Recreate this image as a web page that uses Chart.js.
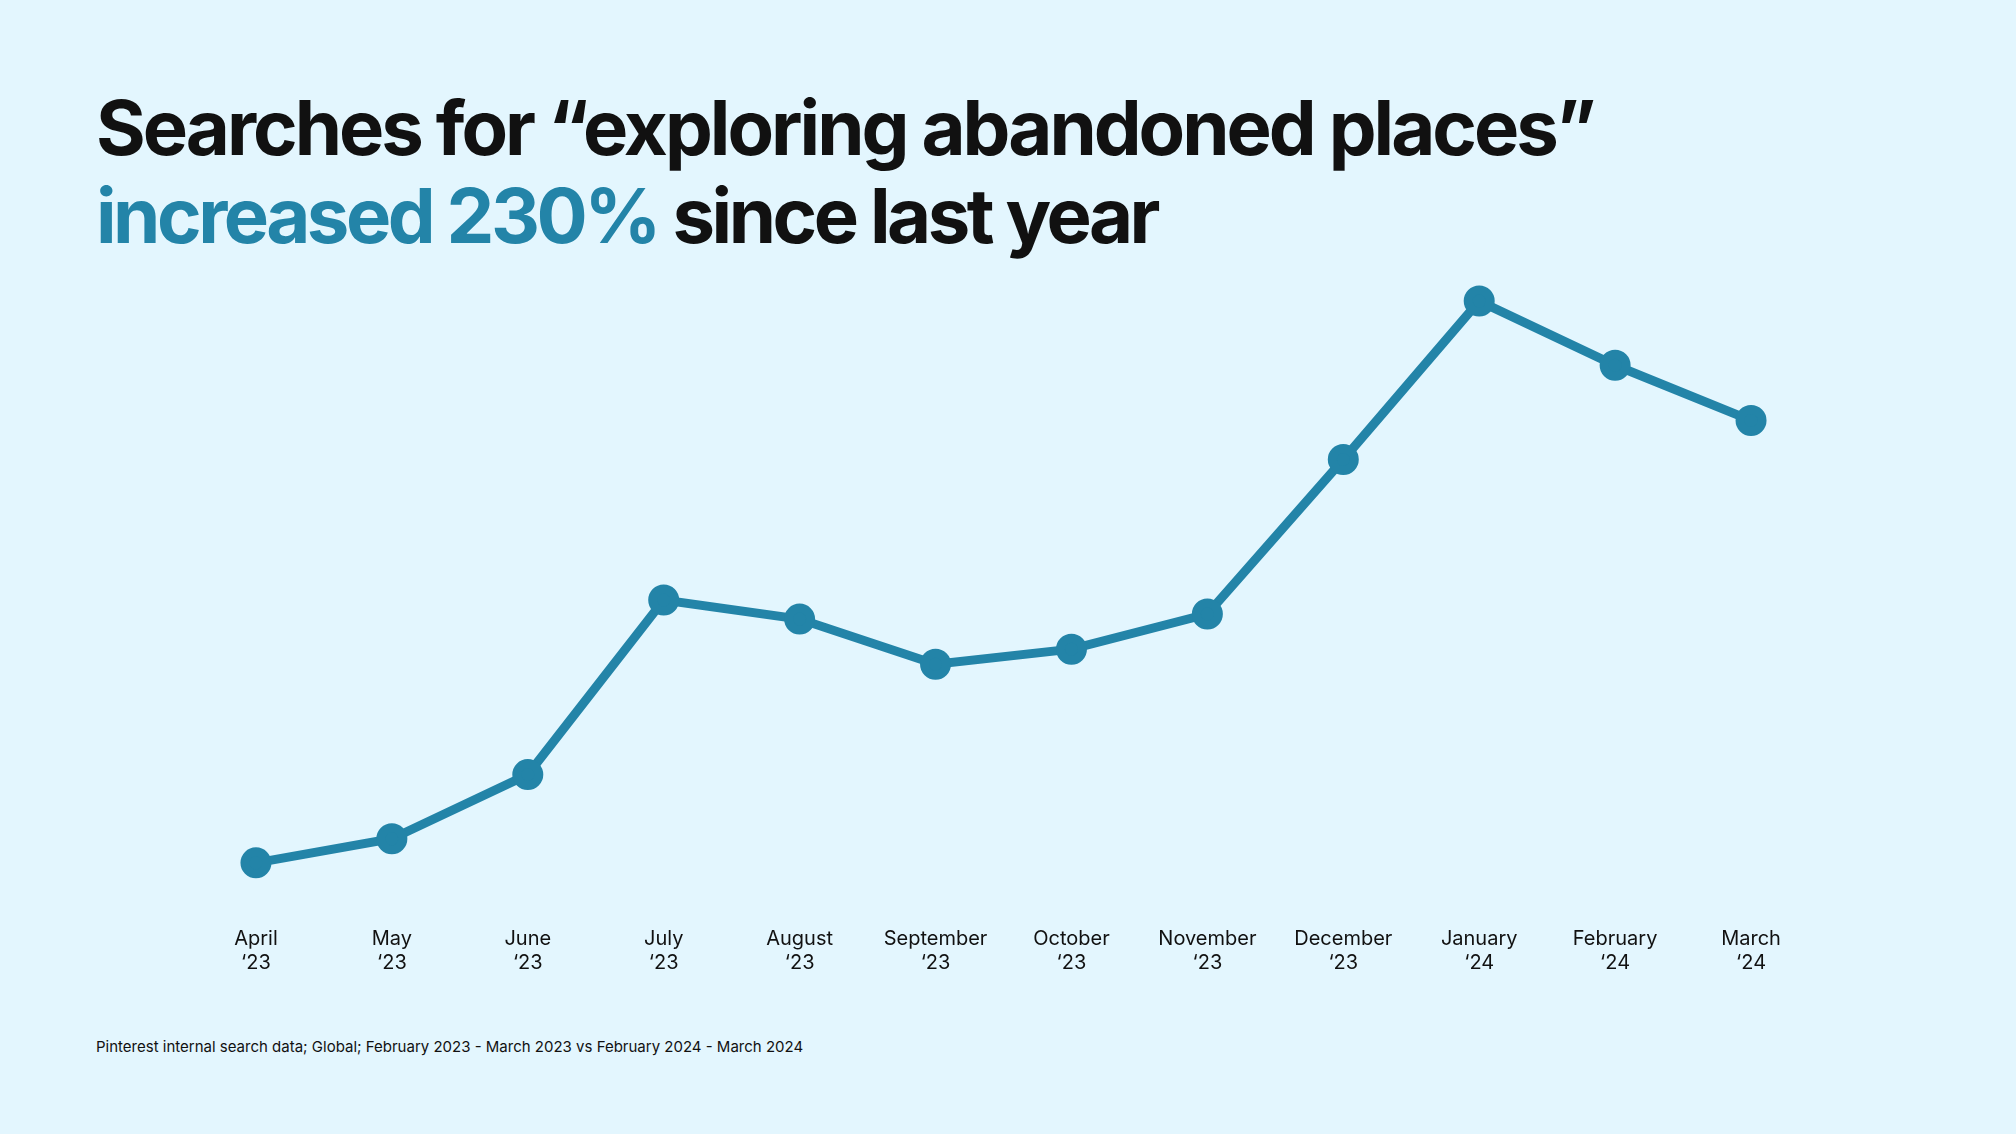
<!DOCTYPE html>
<html lang="en">
<head>
  <meta charset="UTF-8">
  <title>Searches for exploring abandoned places</title>
  <script src="https://cdn.jsdelivr.net/npm/chart.js"></script>
  <style>
    html, body { margin: 0; padding: 0; background: #e3f6fe; }
    body { width: 2016px; height: 1134px; position: relative; overflow: hidden; font-family: Inter, sans-serif; }
    #title {
      position: absolute; left: 96px; top: 83px; margin: 0;
      font-size: 76px; font-weight: 700; line-height: 88px; letter-spacing: -3px; color: #111;
    }
    #title .line2 { letter-spacing: -3.5px; }
    #title .hl { color: #2384a8; }
    #chartBox { position: absolute; left: 188px; top: 280px; width: 1631px; height: 720px; }
    #note { position: absolute; left: 96px; top: 1037px; font-size: 15px; color: #111; }
  </style>
</head>
<body>
<h1 id="title">Searches for “exploring abandoned places”<br><span class="line2"><span class="hl">increased 230%</span> since last year</span></h1>
<div id="chartBox"><canvas id="lineChart"></canvas></div>
<div id="note">Pinterest internal search data; Global; February 2023 - March 2023 vs February 2024 - March 2024</div>

<script>
  // relative search volume (arbitrary units)
  const months = ['April', 'May', 'June', 'July', 'August', 'September', 'October', 'November', 'December', 'January', 'February', 'March'];
  const years = ['‘23', '‘23', '‘23', '‘23', '‘23', '‘23', '‘23', '‘23', '‘23', '‘24', '‘24', '‘24'];
  const searches = [139, 163, 227, 401, 382, 337, 352, 387, 541, 699, 635, 580];

  const labels = months.map((m, i) => [m, years[i]]);

  new Chart(document.getElementById('lineChart'), {
    type: 'line',
    data: {
      labels: labels,
      datasets: [{
        data: searches,
        borderColor: '#2384a8',
        backgroundColor: '#2384a8',
        borderWidth: 9,
        pointRadius: 11,
        pointHoverRadius: 11,
        tension: 0,
        clip: false
      }]
    },
    options: {
      responsive: true,
      maintainAspectRatio: false,
      animation: false,
      layout: { padding: 0, autoPadding: false },
      plugins: {
        legend: { display: false },
        tooltip: { enabled: false }
      },
      scales: {
        x: {
          offset: true,
          grid: { display: false, drawTicks: false },
          border: { display: false },
          ticks: {
            color: '#111',
            padding: 25,
            maxRotation: 0,
            autoSkip: false,
            font: { family: 'Inter', size: 20, lineHeight: 1.2 }
          }
        },
        y: {
          display: false,
          min: 100,
          max: 720
        }
      }
    }
  });
</script>
</body>
</html>
